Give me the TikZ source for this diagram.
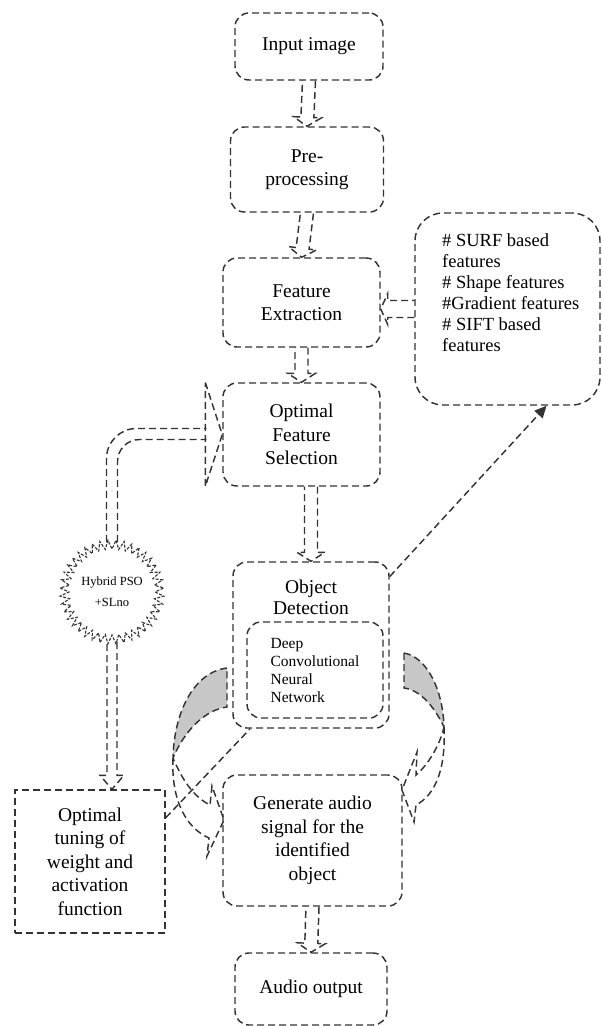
\documentclass[tikz,border=0pt]{standalone}
\usepackage{fontspec}
\setmainfont{Liberation Serif}
\usetikzlibrary{calc,arrows.meta}
\newcommand\blockarr[5]{%
  \path ($(#2)!#5!(#1)$) coordinate (bah);
  \draw[blk] ($(#1)!#3!90:(#2)$) -- ($(bah)!#3!90:(#2)$) -- ($(bah)!#4!90:(#2)$) -- (#2)
     -- ($(bah)!#4!-90:(#2)$) -- ($(bah)!#3!-90:(#2)$) -- ($(#1)!#3!-90:(#2)$);
}
\begin{document}
\begin{tikzpicture}[x=1pt,y=-1pt,
  dl/.style={draw=black!80, line width=1.45pt, dash pattern=on 7pt off 4pt},
  txt/.style={font=\fontsize{19.5}{23.5}\selectfont, align=center, inner sep=0pt},
  box/.style={dl, rounded corners=14pt, txt},
  sqbox/.style={dl, txt},
  blk/.style={dl},
  thinarrow/.style={dl, -{Triangle[length=12pt,width=11pt]}},
  back/.style={dl, fill=black!22},
  front/.style={dl},
  burst/.style={draw=black!80, line width=1.1pt, dash pattern=on 3pt off 1.5pt},
]
\path[use as bounding box, fill=white] (0,0) rectangle (602,1026);

% main boxes
\node[box, minimum width=148pt, minimum height=67pt] (inp) at (309,46.5) {Input image};
\node[box, minimum width=153pt, minimum height=85pt] (pre) at (307,169.5) {Pre-\\processing};
\node[box, minimum width=157pt, minimum height=89pt] (fe) at (301.5,302.5) {Feature\\Extraction};
\node[box, minimum width=157pt, minimum height=103pt] (ofs) at (301.5,434.5) {Optimal\\Feature\\Selection};
\node[box, rounded corners=28pt, minimum width=185pt, minimum height=192pt] (rb) at (507.5,309) {};
\node[anchor=north west, align=left, inner sep=0pt, font=\fontsize{18.5}{21}\selectfont] (rbt) at (442,233)
  {\# SURF based\\features\\\# Shape features\\\#Gradient features\\\# SIFT based\\features};
\node[box, minimum width=156pt, minimum height=166pt] (od) at (311,645) {};
\node[txt, font=\fontsize{19.5}{21}\selectfont] (odt) at (311,597) {Object\\Detection};
\node[box, minimum width=136pt, minimum height=96pt, align=left, font=\fontsize{15.5}{18}\selectfont] (dcnn) at (315,670)
  {Deep\\Convolutional\\Neural\\Network};
\node[box, minimum width=179pt, minimum height=131pt] (gen) at (312.5,840.5)
  {Generate audio\\signal for the\\identified\\object};
\node[box, minimum width=152pt, minimum height=72pt] (aud) at (311,989) {Audio output};
\node[sqbox, minimum width=150pt, minimum height=143pt] (tune) at (90,861.5)
  {Optimal\\tuning of\\weight and\\activation\\function};
\node[circle, minimum size=100pt, inner sep=0pt, align=center, font=\fontsize{12.5}{21}\selectfont] (hyb) at (112,592)
  {Hybrid PSO\\+SLno};
\draw[burst, shift={(hyb.center)}] plot[domain=0:360, samples=81] (\x:{43+9*mod(round(\x/4.5),2)});

% straight block arrows
\blockarr{inp.south}{pre.north}{6.5pt}{14pt}{9pt}
\blockarr{pre.south}{fe.north}{6.5pt}{14pt}{9pt}
\blockarr{fe.south}{ofs.north}{6.5pt}{14pt}{9pt}
\blockarr{od.north |- ofs.south}{od.north}{6.5pt}{14pt}{9pt}
\blockarr{gen.south}{aud.north}{6.5pt}{14pt}{9pt}
\blockarr{rb.west}{rb.west -| fe.east}{8.5pt}{15.5pt}{7pt}
\blockarr{hyb.south}{hyb.south |- tune.north}{5pt}{12pt}{14pt}

% curved block arrow from hybrid to feature selection
\draw[blk, rounded corners=30pt] ($(hyb.north)+(-5.5,0)$) |- ($(ofs.west)+(-16,-6)$);
\draw[blk, rounded corners=22pt] ($(hyb.north)+(5.5,0)$) |- ($(ofs.west)+(-16,5)$);
\draw[blk] ($(ofs.west)+(-17,-52)$) -- (ofs.west) -- ($(ofs.west)+(-17,52)$) -- cycle;

% thin connectors
\draw[thinarrow] (od.41) -- (rb.-68);
\draw[dl] (tune.30) -- (od.-126);

% left curved arrow
\draw[back] (227,668) .. controls (194,672) and (174,712) .. (173,758)
   .. controls (184,732) and (204,710) .. (227,707) -- cycle;
\draw[front] (173,758) .. controls (171,800) and (186,828) .. (209,838)
   -- (207,856) -- (224,820) -- (212,786) -- (210,805)
   .. controls (196,798) and (184,784) .. (173,758);
% right curved arrow
\draw[back] (404,653) .. controls (427,657) and (443,690) .. (444,727)
   .. controls (434,706) and (420,690) .. (404,688) -- cycle;
\draw[front] (444,727) .. controls (446,770) and (435,795) .. (416,805)
   -- (414,822) -- (402,790) -- (417,752) -- (416,775)
   .. controls (428,765) and (440,745) .. (444,727);
\end{tikzpicture}
\end{document}
